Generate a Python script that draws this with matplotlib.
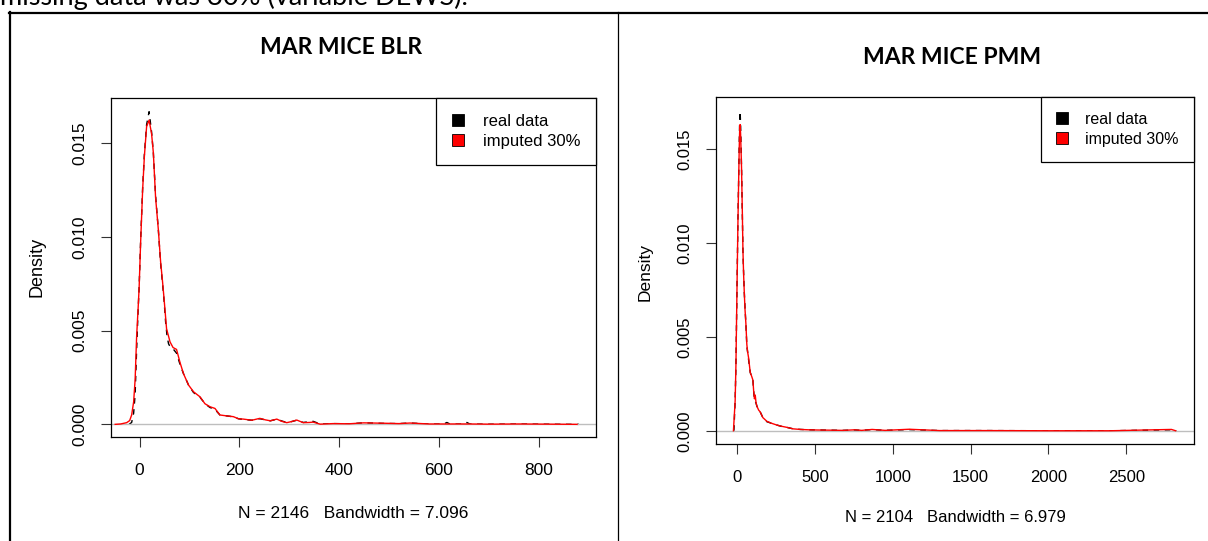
import matplotlib
matplotlib.use("Agg")
import matplotlib.pyplot as plt
from matplotlib.patches import Patch
from matplotlib.lines import Line2D

W, H = 1208, 541

# ---- data (value, density) ----
blr_real_x = [-21, -16, -12, -9, -6, -3, -1, 2, 6, 9.5,
              14, 19, 24, 27.5, 32, 37.5, 42, 46, 49, 52,
              55, 58, 62, 68, 74, 81, 88, 98, 108, 121,
              131, 141, 151, 161, 175, 188, 198, 208, 225, 241,
              252, 262, 275, 285, 295, 305, 315, 328, 340, 348,
              356, 364, 388, 420, 449, 489, 520, 542, 580, 610,
              616, 622, 650, 656, 662, 700, 760, 820, 881]
blr_real_y = [0.0, 0.0001, 0.0006, 0.0016, 0.0040, 0.0061, 0.0073, 0.0098, 0.0126, 0.0144,
              0.0160, 0.01669, 0.0156, 0.0145, 0.0122, 0.0104, 0.0086, 0.0075, 0.0066, 0.0055,
              0.0047, 0.0043, 0.0041, 0.0040, 0.0038, 0.0032, 0.0027, 0.0021, 0.0017, 0.00145,
              0.0011, 0.0009, 0.0008, 0.0005, 0.00045, 0.0004, 0.0003, 0.00026, 0.00022, 0.0003,
              0.00024, 0.00019, 0.00027, 0.00018, 0.0001, 0.00015, 0.00022, 0.0001, 0.00014, 0.00016,
              0.00008, 0.00002, 0.00004, 0.00003, 0.00008, 0.00005, 0.00004, 0.00007, 0.00002, 0.00002,
              0.0001, 0.00002, 0.00002, 0.0001, 0.00002, 0.00001, 0.00002, 0.00001, 0.0]

blr_imp_x = [-49, -38, -26, -20, -16, -12, -9, -6, -3, -1,
             2, 6, 9.5, 14, 19, 24, 27.5, 32, 37.5, 42,
             46, 49, 54, 61, 67, 74, 81, 88, 98, 108,
             121, 131, 141, 151, 161, 175, 188, 198, 208, 225,
             241, 252, 262, 275, 285, 295, 305, 315, 328, 340,
             348, 362, 388, 420, 449, 489, 520, 542, 580, 620,
             660, 700, 760, 820, 877]
blr_imp_y = [0.0, 0.00002, 0.00009, 0.0002, 0.0005, 0.0012, 0.0024, 0.0047, 0.0062, 0.0073,
             0.0097, 0.0125, 0.0143, 0.0159, 0.01624, 0.0155, 0.0145, 0.0121, 0.0104, 0.0087,
             0.0076, 0.0067, 0.0051, 0.0044, 0.0041, 0.0040, 0.0033, 0.0027, 0.0021, 0.00174,
             0.00147, 0.0011, 0.00094, 0.00085, 0.0005, 0.00045, 0.00041, 0.0003, 0.00028, 0.00022,
             0.00032, 0.00024, 0.00019, 0.00028, 0.00016, 0.00009, 0.00015, 0.00023, 0.00009, 0.0001,
             0.00012, 0.00001, 0.00004, 0.00003, 0.00008, 0.00006, 0.00004, 0.00007, 0.00002, 0.00002,
             0.00002, 0.00001, 0.00002, 0.00001, 0.0]

pmm_real_x = [-21, -13, -8, -2, 4.5, 9, 13, 16, 19, 22,
              28, 33, 37, 41, 45, 50, 56, 62, 67, 73,
              84, 93, 101, 106, 111, 120, 127, 138, 148, 165,
              191, 220, 256, 290, 320, 360, 406, 460, 513, 600,
              680, 755, 800, 867, 950, 1105, 1300, 1600, 2000, 2400,
              2790, 2821]
pmm_real_y = [0.0, 0.0016, 0.0035, 0.0071, 0.0110, 0.0132, 0.0152, 0.0165, 0.0170, 0.0163,
              0.0140, 0.0116, 0.0096, 0.0085, 0.0075, 0.0066, 0.0057, 0.0045, 0.0042, 0.0038,
              0.0031, 0.0029, 0.0027, 0.0021, 0.0016, 0.0015, 0.0013, 0.0011, 0.0010, 0.0007,
              0.00048, 0.0004, 0.0003, 0.00022, 0.00018, 0.0001, 0.00007, 0.00005, 0.00004, 0.00003,
              0.00002, 0.00004, 0.00002, 0.00006, 0.00002, 0.00006, 0.00001, 0.00001, 0.0, 0.0,
              0.00005, 0.0]

pmm_imp_x = [-24, -13, -8, -2, 4.5, 9, 13, 16, 19, 22,
             28, 33, 37, 41, 45, 50, 56, 62, 67, 73,
             84, 93, 101, 106, 111, 116, 121, 127, 138, 148,
             165, 191, 220, 256, 290, 320, 360, 406, 460, 513,
             600, 680, 755, 800, 867, 950, 1105, 1300, 1600, 2000,
             2400, 2790, 2817]
pmm_imp_y = [0.0, 0.0016, 0.0035, 0.0071, 0.0109, 0.0131, 0.0150, 0.0160, 0.0163, 0.0158,
             0.0140, 0.0117, 0.0096, 0.0084, 0.0075, 0.0065, 0.0057, 0.0046, 0.0042, 0.0039,
             0.0031, 0.0029, 0.0027, 0.0021, 0.0017, 0.0019, 0.0015, 0.0013, 0.0011, 0.0010,
             0.0007, 0.0005, 0.0004, 0.0003, 0.00023, 0.00018, 0.0001, 0.00007, 0.00005, 0.00004,
             0.00003, 0.00002, 0.00005, 0.00002, 0.00007, 0.00002, 0.00008, 0.00001, 0.00001, 0.0,
             0.0, 0.00007, 0.0]

titles = ["MAR MICE BLR", "MAR MICE PMM"]
subs = ["N = 2146   Bandwidth = 7.096", "N = 2104   Bandwidth = 6.979"]
xticks = [[0, 200, 400, 600, 800], [0, 500, 1000, 1500, 2000, 2500]]
yticks = [0.000, 0.005, 0.010, 0.015]
legend_labels = ["real data", "imputed 30%"]

plt.rcParams["font.family"] = ["Liberation Sans", "DejaVu Sans"]

fig = plt.figure(figsize=(W / 100, H / 100), dpi=100)
fx = lambda px: px / W
fy = lambda py: 1 - py / H

# document text cut at the top + table borders
fig.text(fx(0), fy(5.5), "missing data was 30% (variable DEWS).", family="Lato",
         fontsize=19.5, va="baseline", ha="left")
fig.add_artist(Line2D([fx(9), fx(1208)], [fy(12.5), fy(12.5)], color="black", lw=1.6))
fig.add_artist(Line2D([fx(10), fx(10)], [fy(12), fy(541)], color="black", lw=1.6))
fig.add_artist(Line2D([fx(617.5), fx(617.5)], [fy(12), fy(541)], color="black", lw=0.9))

panels = [
    dict(rect=[fx(110.7), fy(436.9), fx(596) - fx(110.7), fy(98.2) - fy(436.9)],
         xlim=(-58, 915), ylim=(-0.00067, 0.01741),
         real=(blr_real_x, blr_real_y), imp=(blr_imp_x, blr_imp_y),
         title_xy=(341, 47), sub_xy=(353, 513), ylab_xy=(37, 267), fs=12.5),
    dict(rect=[fx(715.7), fy(443.6), fx(1194) - fx(715.7), fy(96.7) - fy(443.6)],
         xlim=(-138, 2935), ylim=(-0.000684, 0.017784),
         real=(pmm_real_x, pmm_real_y), imp=(pmm_imp_x, pmm_imp_y),
         title_xy=(952, 58), sub_xy=(955, 517), ylab_xy=(645, 272), fs=12),
]

for i, p in enumerate(panels):
    ax = fig.add_axes(p["rect"])
    ax.plot(*p["real"], color="black", lw=1.0, ls=(0, (4, 4)))
    ax.axhline(0, color="#bebebe", lw=1.0)
    ax.plot(*p["imp"], color="red", lw=1.0)
    ax.set_xlim(*p["xlim"])
    ax.set_ylim(*p["ylim"])
    ax.set_xticks(xticks[i])
    ax.set_xticklabels([str(t) for t in xticks[i]])
    ax.set_yticks(yticks)
    ax.set_yticklabels([f"{t:.3f}" for t in yticks], rotation=90, va="center")
    ax.tick_params(direction="out", length=7, width=0.8, labelsize=p["fs"], color="#333333")
    ax.tick_params(axis="x", pad=12)
    ax.tick_params(axis="y", pad=10)
    for s in ax.spines.values():
        s.set_linewidth(0.9)
        s.set_color("black")
    handles = [Patch(facecolor="black", edgecolor="black", lw=0.6),
               Patch(facecolor="red", edgecolor="black", lw=0.6)]
    leg = ax.legend(handles, legend_labels, loc="upper right", borderaxespad=0,
                    fontsize=p["fs"] - 0.5, fancybox=False, framealpha=1, edgecolor="black",
                    handlelength=0.75, handleheight=0.75, handletextpad=1.1,
                    labelspacing=0.3, borderpad=0.95)
    leg.get_frame().set_linewidth(0.9)
    fig.text(fx(p["title_xy"][0]), fy(p["title_xy"][1]), titles[i], family="Lato",
             fontweight="bold", fontsize=16.5, ha="center", va="center")
    fig.text(fx(p["sub_xy"][0]), fy(p["sub_xy"][1]), subs[i], fontsize=p["fs"],
             ha="center", va="center")
    fig.text(fx(p["ylab_xy"][0]), fy(p["ylab_xy"][1]), "Density", fontsize=p["fs"] + 0.5,
             rotation=90, ha="center", va="center")

fig.savefig("out.png", dpi=100)
